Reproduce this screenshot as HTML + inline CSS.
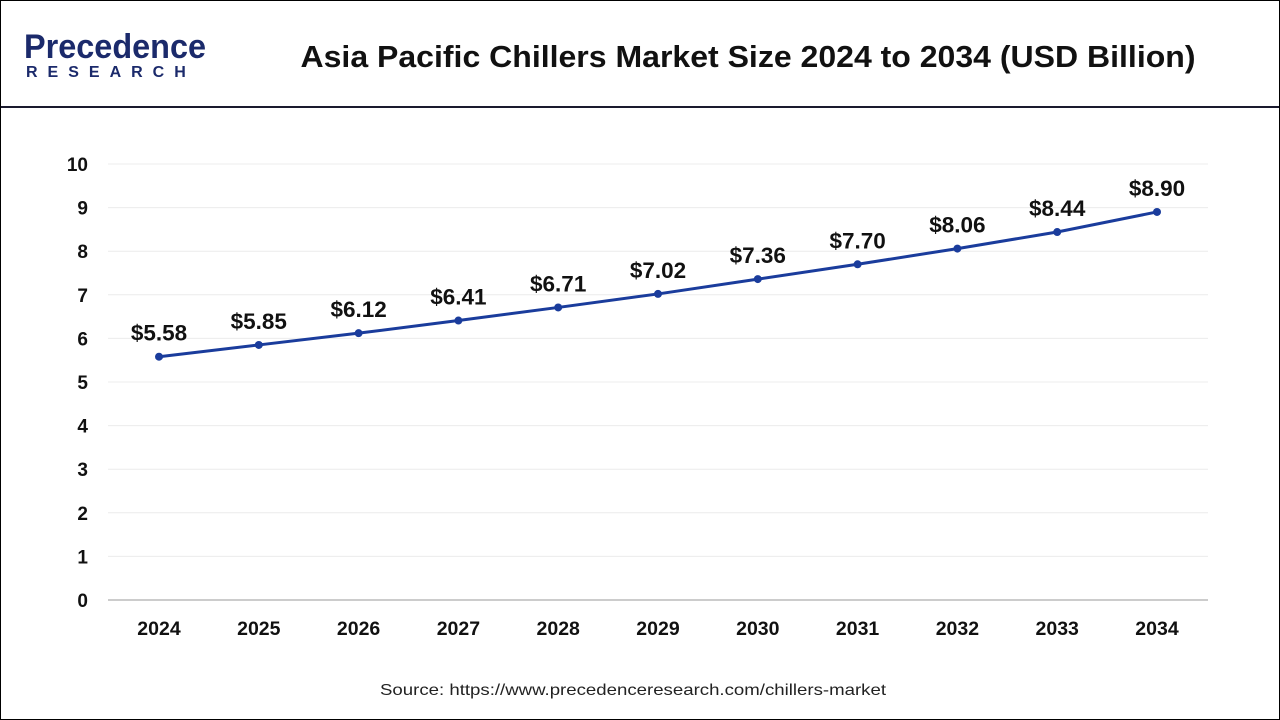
<!DOCTYPE html>
<html><head><meta charset="utf-8"><style>
body{margin:0;background:#fff;font-family:"Liberation Sans",Arial,sans-serif}
#wrap{position:relative;width:1278px;height:718px;border:1px solid #000;overflow:hidden;background:#fff}
</style></head><body>
<div id="wrap">
<svg width="1278" height="718" viewBox="1 1 1278 718" id="svg">
 <g>
  <text x="24" y="58" font-size="34" font-weight="bold" fill="#1b2a6b" textLength="182" lengthAdjust="spacingAndGlyphs">Precedence</text>
  <text x="26" y="77" font-size="16" font-weight="bold" fill="#1b2a6b" letter-spacing="10">RESEARCH</text>
 </g>
 <text x="748" y="67" text-anchor="middle" font-size="31" font-weight="bold" fill="#111" textLength="895" lengthAdjust="spacingAndGlyphs">Asia Pacific Chillers Market Size 2024 to 2034 (USD Billion)</text>
 <rect x="0" y="106" width="1280" height="2" fill="#1a1a2e"/>
 <g id="grid"></g><g id="yt"></g><g id="xt"></g><g id="series"></g>
 <text x="633" y="695" text-anchor="middle" font-size="16" fill="#222" textLength="506" lengthAdjust="spacingAndGlyphs">Source: https://www.precedenceresearch.com/chillers-market</text>
</svg>
</div>
<script>
const years=["2024","2025","2026","2027","2028","2029","2030","2031","2032","2033","2034"];
const values=[5.58,5.85,6.12,6.41,6.71,7.02,7.36,7.70,8.06,8.44,8.90];
const labels=["$5.58","$5.85","$6.12","$6.41","$6.71","$7.02","$7.36","$7.70","$8.06","$8.44","$8.90"];
const yTicks=[0,1,2,3,4,5,6,7,8,9,10];
const NS="http://www.w3.org/2000/svg";
const x=i=>159+i*99.8, y=v=>600-v*43.6;
function mk(t,a,p){const e=document.createElementNS(NS,t);for(const k in a)e.setAttribute(k,a[k]);p.appendChild(e);return e;}
const grid=document.getElementById('grid'),yt=document.getElementById('yt'),xt=document.getElementById('xt'),se=document.getElementById('series');
yTicks.forEach(v=>{
 const l=mk('line',{x1:108,x2:1208,y1:y(v),y2:y(v),stroke:v===0?'#bbb':'#ececec','stroke-width':v===0?1.5:1},grid);
 
 
 const t=mk('text',{x:88,y:y(v)+7,'text-anchor':'end','font-size':19,'font-weight':'bold',fill:'#111'},yt);
 t.textContent=v;
 
 
});
years.forEach((yr,i)=>{
 const t=mk('text',{x:x(i),y:635,'text-anchor':'middle','font-size':19.5,'font-weight':'bold',fill:'#111'},xt);
 t.textContent=yr;
 
 
});
const pl=mk('polyline',{points:values.map((v,i)=>x(i)+','+y(v)).join(' '),fill:'none',stroke:'#1a3c9c','stroke-width':3},se);


values.forEach((v,i)=>{
 const c=mk('circle',{cx:x(i),cy:y(v),r:4,fill:'#1a3c9c'},se);
 
 
 const t=mk('text',{x:x(i),y:y(v)-16,'text-anchor':'middle','font-size':22.5,'font-weight':'bold',fill:'#111'},se);
 t.textContent=labels[i];
 
 
});
</script>
</body></html>
